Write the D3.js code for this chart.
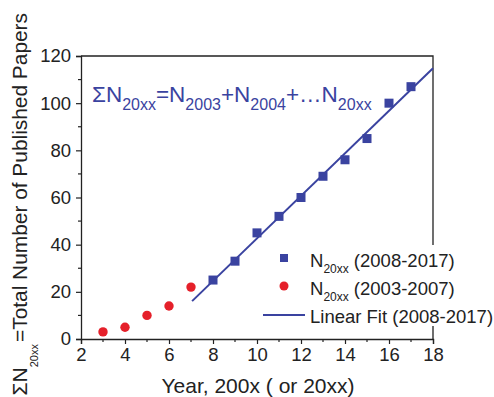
<!DOCTYPE html>
<html>
<head>
<meta charset="utf-8">
<script src="https://cdn.jsdelivr.net/npm/d3@7"></script>
<style>
  html, body { margin: 0; padding: 0; background: #fff; }
  svg { display: block; font-family: "Liberation Sans", Arial, sans-serif; }
</style>
</head>
<body>
<svg id="chart" width="494" height="397"></svg>
<script>
// Cumulative paper counts, 2008-2017 (years given as 20xx offset)
const yearsLate = [8, 9, 10, 11, 12, 13, 14, 15, 16, 17];
const totalsLate = [25, 33, 45, 52, 60, 69, 76, 85, 100, 107];
// Cumulative paper counts, 2003-2007
const yearsEarly = [3, 4, 5, 6, 7];
const totalsEarly = [3, 5, 10, 14, 22];
// Axis ticks
const xTicks = [2, 4, 6, 8, 10, 12, 14, 16, 18];
const yTicks = [0, 20, 40, 60, 80, 100, 120];
// Range drawn for the fitted line
const fitRange = [7.05, 18];

const blue = "#3a43a0";
const red = "#e5202a";
const ink = "#222";

const svg = d3.select("#chart");
const plotLeft = 81, plotRight = 433, plotTop = 56, plotBottom = 339;

const x = d3.scaleLinear().domain([2, 18]).range([plotLeft, plotRight]);
const y = d3.scaleLinear().domain([0, 120]).range([plotBottom, plotTop]);

// Least-squares fit over the 2008-2017 points
const mx = d3.mean(yearsLate), my = d3.mean(totalsLate);
const slope = d3.sum(yearsLate, (d, i) => (d - mx) * (totalsLate[i] - my)) /
              d3.sum(yearsLate, d => (d - mx) * (d - mx));
const intercept = my - slope * mx;

// Frame: top and right borders
svg.append("path")
  .attr("d", `M${plotLeft},${plotTop}H${plotRight}V${plotBottom}`)
  .attr("fill", "none").attr("stroke", ink).attr("stroke-width", 1.3);

// Minor ticks
const xMinor = d3.range(3, 18, 2);
const yMinor = d3.range(10, 120, 20);

const gx = svg.append("g").attr("transform", `translate(0,${plotBottom})`);
gx.call(d3.axisBottom(x).tickValues(xTicks).tickSizeOuter(0).tickSize(5).tickPadding(4));
gx.append("g").selectAll("line").data(xMinor).join("line")
  .attr("x1", d => x(d)).attr("x2", d => x(d)).attr("y1", 0).attr("y2", 3)
  .attr("stroke", ink).attr("stroke-width", 1.2);

const gy = svg.append("g").attr("transform", `translate(${plotLeft},0)`);
gy.call(d3.axisLeft(y).tickValues(yTicks).tickSizeOuter(0).tickSize(5).tickPadding(5));
gy.append("g").selectAll("line").data(yMinor).join("line")
  .attr("y1", d => y(d)).attr("y2", d => y(d)).attr("x1", 0).attr("x2", -3)
  .attr("stroke", ink).attr("stroke-width", 1.2);

[gx, gy].forEach(g => {
  g.select(".domain").attr("stroke", ink).attr("stroke-width", 1.3);
  g.selectAll(".tick line").attr("stroke", ink).attr("stroke-width", 1.2);
  g.selectAll(".tick text").attr("font-size", 18.5).attr("fill", ink)
    .attr("font-family", "Liberation Sans, Arial, sans-serif");
});

// Fit line
svg.append("line")
  .attr("x1", x(fitRange[0])).attr("y1", y(slope * fitRange[0] + intercept))
  .attr("x2", x(fitRange[1])).attr("y2", y(slope * fitRange[1] + intercept))
  .attr("stroke", blue).attr("stroke-width", 2);

// 2008-2017 squares
const sq = 9;
svg.append("g").selectAll("rect").data(yearsLate).join("rect")
  .attr("x", d => x(d) - sq / 2)
  .attr("y", (d, i) => y(totalsLate[i]) - sq / 2)
  .attr("width", sq).attr("height", sq)
  .attr("fill", blue);

// 2003-2007 circles
svg.append("g").selectAll("circle").data(yearsEarly).join("circle")
  .attr("cx", d => x(d))
  .attr("cy", (d, i) => y(totalsEarly[i]))
  .attr("r", 4.7)
  .attr("fill", red);

// Summation formula
const f = svg.append("text").attr("x", 92).attr("y", 102)
  .attr("fill", blue).attr("font-size", 22.5);
f.append("tspan").text("\u03A3N");
f.append("tspan").attr("font-size", 16).attr("dy", 8).text("20xx");
f.append("tspan").attr("dy", -8).text("=N");
f.append("tspan").attr("font-size", 16).attr("dy", 8).text("2003");
f.append("tspan").attr("dy", -8).text("+N");
f.append("tspan").attr("font-size", 16).attr("dy", 8).text("2004");
f.append("tspan").attr("dy", -8).text("+\u2026N");
f.append("tspan").attr("font-size", 16).attr("dy", 8).text("20xx");

// Legend
const lg = svg.append("g");
lg.append("rect").attr("x", 256).attr("y", 245).attr("width", 238).attr("height", 81)
  .attr("fill", "#fff");
lg.append("rect").attr("x", 280).attr("y", 254).attr("width", 8).attr("height", 8).attr("fill", blue);
lg.append("circle").attr("cx", 284).attr("cy", 286).attr("r", 4.5).attr("fill", red);
lg.append("line").attr("x1", 263).attr("x2", 305).attr("y1", 315).attr("y2", 315)
  .attr("stroke", blue).attr("stroke-width", 2);

function legendEntry(yb, label) {
  const t = lg.append("text").attr("x", 310).attr("y", yb).attr("font-size", 18.5).attr("fill", ink);
  t.append("tspan").text("N");
  t.append("tspan").attr("font-size", 12).attr("dy", 6).text("20xx");
  t.append("tspan").attr("dy", -6).text(" " + label);
}
legendEntry(267, "(2008-2017)");
legendEntry(295, "(2003-2007)");
lg.append("text").attr("x", 310).attr("y", 323).attr("font-size", 18.5).attr("fill", ink)
  .text("Linear Fit (2008-2017)");

// Axis titles
svg.append("text").attr("x", 258).attr("y", 393)
  .attr("text-anchor", "middle").attr("font-size", 21).attr("fill", ink)
  .text("Year, 200x ( or 20xx)");

// Y title: the "=Total ..." part runs up to the top edge,
// the sigma symbol with its subscript sits below it, partly past the bottom edge
svg.append("text")
  .attr("transform", "translate(27,342) rotate(-90)")
  .attr("text-anchor", "start").attr("font-size", 20.7).attr("fill", ink)
  .attr("textLength", 329).attr("lengthAdjust", "spacingAndGlyphs")
  .text("=Total Number of Published Papers");

const ys = svg.append("text")
  .attr("transform", "translate(27,344) rotate(-90)")
  .attr("text-anchor", "end").attr("font-size", 21).attr("fill", ink);
ys.append("tspan").text("\u03A3N");
ys.append("tspan").attr("font-size", 11).attr("dy", 11).text("20xx");
</script>
</body>
</html>
